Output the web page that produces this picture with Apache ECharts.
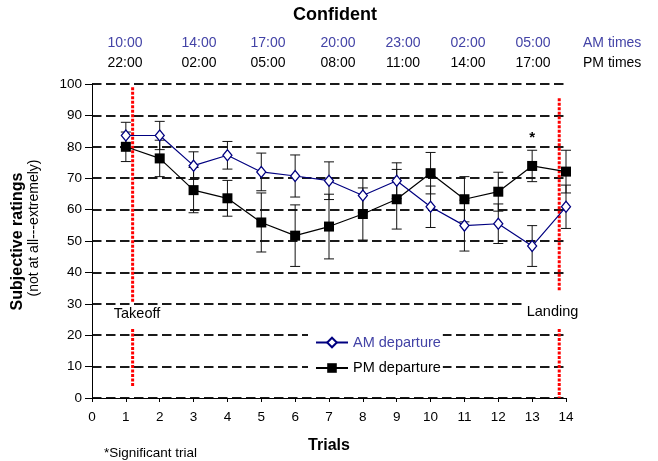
<!DOCTYPE html>
<html>
<head>
<meta charset="utf-8">
<title>Confident</title>
<script src="https://cdn.jsdelivr.net/npm/echarts@6/dist/echarts.min.js"></script>
<style>
    html, body { margin: 0; padding: 0; background: #fff; }
    #chart { width: 658px; height: 461px; }
</style>
</head>
<body>
<div id="chart"></div>
<script>
// values
const trials = [1, 2, 3, 4, 5, 6, 7, 8, 9, 10, 11, 12, 13, 14];
const amRatings = [83.6, 83.6, 74.0, 77.3, 72.0, 70.7, 69.2, 64.5, 69.2, 60.9, 54.9, 55.5, 48.4, 60.9];
const amErrors = [4.2, 4.5, 4.4, 4.4, 6.0, 6.7, 6.0, 5.5, 5.7, 6.6, 8.1, 6.3, 6.5, 6.9];
const pmRatings = [80.0, 76.3, 66.2, 63.6, 55.9, 51.7, 54.6, 58.6, 63.3, 71.6, 63.3, 65.7, 73.9, 72.1];
const pmErrors = [4.7, 5.8, 7.2, 5.7, 9.4, 9.8, 10.3, 8.3, 9.5, 6.6, 7.2, 6.2, 5.0, 6.8];
const amTimes = ['10:00', '14:00', '17:00', '20:00', '23:00', '02:00', '05:00'];
const pmTimes = ['22:00', '02:00', '05:00', '08:00', '11:00', '14:00', '17:00'];
const significantTrials = [13];
const significantMarkY = 83;
// red dotted event lines: [trial, from, to]
const eventLines = [[1.2, 99, 30.2], [1.2, 22, 3.6], [13.8, 95.5, 33.8], [13.8, 22, 0]];

const FONT = '"Liberation Sans", Arial, sans-serif';
const AM_LINE = '#000080';
const AM_TEXT = '#4343a6';
const timeX = [125, 199, 268, 338, 403, 468, 533];

function errorBar(params, api) {
    const x = api.value(0);
    const lo = api.coord([x, api.value(1)]);
    const hi = api.coord([x, api.value(2)]);
    const w = 5;
    const style = { stroke: '#111', lineWidth: 1 };
    return {
        type: 'group',
        children: [
            { type: 'line', shape: { x1: hi[0], y1: hi[1], x2: lo[0], y2: lo[1] }, style },
            { type: 'line', shape: { x1: hi[0] - w, y1: hi[1], x2: hi[0] + w, y2: hi[1] }, style },
            { type: 'line', shape: { x1: lo[0] - w, y1: lo[1], x2: lo[0] + w, y2: lo[1] }, style }
        ]
    };
}

function eventLine(params, api) {
    const a = api.coord([api.value(0), api.value(1)]);
    const b = api.coord([api.value(0), api.value(2)]);
    return {
        type: 'line',
        shape: { x1: a[0], y1: a[1], x2: b[0], y2: b[1] },
        style: { stroke: '#ff0000', lineWidth: 3, lineDash: [3, 1.5] }
    };
}

const graphic = [
    { type: 'text', x: 335, y: 15, z: 100,
      style: { text: 'Confident', font: 'bold 18px ' + FONT, fill: '#000', align: 'center', verticalAlign: 'middle' } }
];
amTimes.forEach((t, i) => {
    graphic.push({ type: 'text', x: timeX[i], y: 43.5, z: 100,
        style: { text: t, font: '14px ' + FONT, fill: AM_TEXT, align: 'center', verticalAlign: 'middle' } });
});
pmTimes.forEach((t, i) => {
    graphic.push({ type: 'text', x: timeX[i], y: 63.3, z: 100,
        style: { text: t, font: '14px ' + FONT, fill: '#000', align: 'center', verticalAlign: 'middle' } });
});
graphic.push(
    { type: 'text', x: 583, y: 43.5, z: 100,
      style: { text: 'AM times', font: '14px ' + FONT, fill: AM_TEXT, align: 'left', verticalAlign: 'middle' } },
    { type: 'text', x: 583, y: 63.3, z: 100,
      style: { text: 'PM times', font: '14px ' + FONT, fill: '#000', align: 'left', verticalAlign: 'middle' } },
    { type: 'text', x: 18, y: 241.5, rotation: Math.PI / 2, z: 100,
      style: { text: 'Subjective ratings', font: 'bold 16px ' + FONT, fill: '#000', align: 'center', verticalAlign: 'middle' } },
    { type: 'text', x: 34, y: 228, rotation: Math.PI / 2, z: 100,
      style: { text: '(not at all---extremely)', font: '14px ' + FONT, fill: '#000', align: 'center', verticalAlign: 'middle' } },
    { type: 'text', x: 137, y: 314, z: 100,
      style: { text: 'Takeoff', font: '14.5px ' + FONT, fill: '#000', align: 'center', verticalAlign: 'middle' } },
    { type: 'text', x: 552.5, y: 312.3, z: 100,
      style: { text: 'Landing', font: '14.5px ' + FONT, fill: '#000', align: 'center', verticalAlign: 'middle',
               backgroundColor: '#fff', padding: [3, 4, 2, 4] } },
    { type: 'text', x: 104, y: 453, z: 100,
      style: { text: '*Significant trial', font: '13.5px ' + FONT, fill: '#000', align: 'left', verticalAlign: 'middle' } }
);

const chart = echarts.init(document.getElementById('chart'));
chart.setOption({
    animation: false,
    grid: { left: 92, right: 92, top: 84, bottom: 63 },
    graphic,
    legend: {
        data: [
            { name: 'AM departure', textStyle: { color: AM_TEXT } },
            { name: 'PM departure' }
        ],
        orient: 'vertical',
        left: 308,
        top: 331,
        padding: [4, 2, 4, 7],
        itemWidth: 32,
        itemHeight: 12,
        itemGap: 10.5,
        backgroundColor: '#fff',
        selectedMode: false,
        textStyle: { fontFamily: FONT, fontSize: 14.5, color: '#000' }
    },
    xAxis: {
        type: 'value',
        min: 0,
        max: 14,
        interval: 1,
        name: 'Trials',
        nameLocation: 'middle',
        nameGap: 40,
        nameTextStyle: { fontFamily: FONT, fontSize: 16, fontWeight: 'bold', color: '#000' },
        axisLine: { lineStyle: { color: '#000', width: 1 } },
        axisTick: { length: 4, lineStyle: { color: '#000' } },
        axisLabel: { margin: 12, fontFamily: FONT, fontSize: 13.5, color: '#000' },
        splitLine: { show: false }
    },
    yAxis: {
        type: 'value',
        min: 0,
        max: 100,
        interval: 10,
        axisLine: { show: true, lineStyle: { color: '#000', width: 1 } },
        axisTick: { show: true, length: 7, lineStyle: { color: '#000' } },
        axisLabel: { margin: 10, fontFamily: FONT, fontSize: 13.5, color: '#000' },
        splitLine: { lineStyle: { color: '#1a1a1a', width: 2, type: [9.5, 4.5] } }
    },
    series: [
        {
            name: 'amErr',
            type: 'custom',
            renderItem: errorBar,
            encode: { x: 0, y: [1, 2] },
            data: trials.map((t, i) => [t, amRatings[i] - amErrors[i], amRatings[i] + amErrors[i]]),
            z: 1
        },
        {
            name: 'pmErr',
            type: 'custom',
            renderItem: errorBar,
            encode: { x: 0, y: [1, 2] },
            data: trials.map((t, i) => [t, pmRatings[i] - pmErrors[i], pmRatings[i] + pmErrors[i]]),
            z: 1
        },
        {
            name: 'events',
            type: 'custom',
            renderItem: eventLine,
            encode: { x: 0, y: [1, 2] },
            data: eventLines,
            z: 2
        },
        {
            name: 'PM departure',
            type: 'line',
            data: trials.map((t, i) => [t, pmRatings[i]]),
            symbol: 'rect',
            symbolSize: 10,
            itemStyle: { color: '#000' },
            lineStyle: { color: '#000', width: 1.2 },
            markPoint: {
                symbol: 'circle',
                symbolSize: 0,
                label: { show: true, formatter: '*', fontFamily: FONT, fontSize: 15, fontWeight: 'bold', color: '#000', position: 'inside' },
                data: significantTrials.map(t => ({ coord: [t, significantMarkY] }))
            },
            z: 3
        },
        {
            name: 'AM departure',
            type: 'line',
            data: trials.map((t, i) => [t, amRatings[i]]),
            symbol: 'diamond',
            symbolSize: [9, 11],
            itemStyle: { color: '#fff', borderColor: AM_LINE, borderWidth: 1.3 },
            lineStyle: { color: AM_LINE, width: 1.2 },
            z: 4
        }
    ]
});
</script>
</body>
</html>
